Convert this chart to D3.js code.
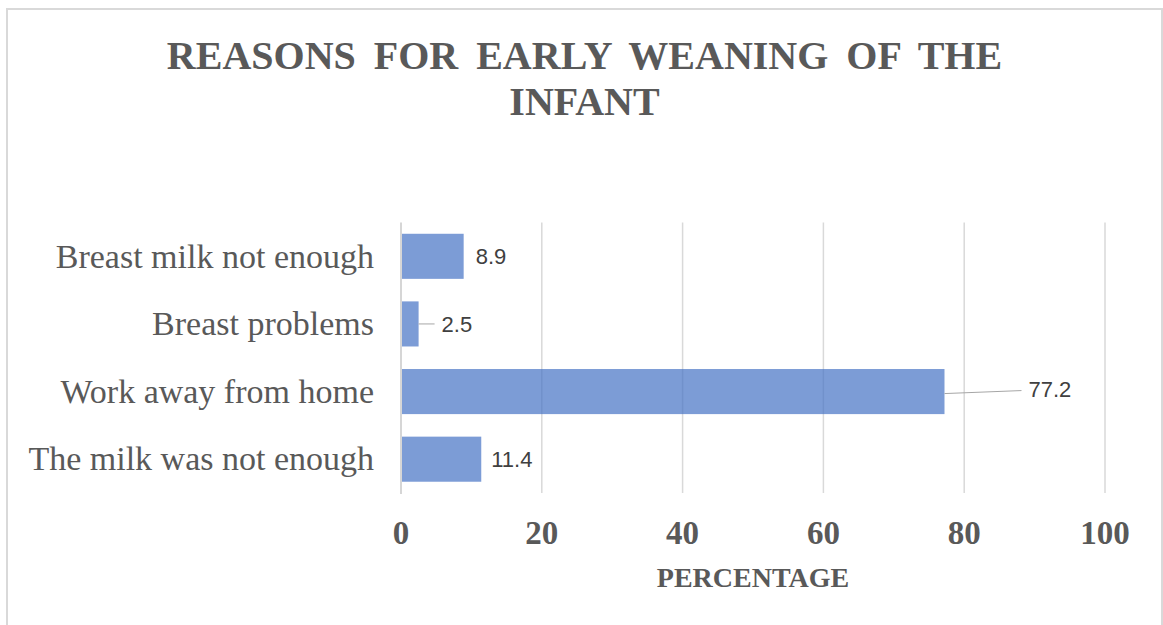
<!DOCTYPE html>
<html>
<head>
<meta charset="utf-8">
<script src="https://cdn.jsdelivr.net/npm/d3@7"></script>
<style>
  html, body { margin: 0; padding: 0; background: #fff; }
  svg { display: block; }
</style>
</head>
<body>
<svg id="chart" width="1163" height="625"></svg>
<script>
// chart data
var categories = ["Breast milk not enough", "Breast problems", "Work away from home", "The milk was not enough"];
var values = [8.9, 2.5, 77.2, 11.4];
var xTicks = [0, 20, 40, 60, 80, 100];
var titleLines = ["REASONS FOR EARLY WEANING OF THE", "INFANT"];
var axisTitle = "PERCENTAGE";

var svg = d3.select("#chart");
var margin = { top: 222.5, right: 58, bottom: 132, left: 401 };
var width = +svg.attr("width") - margin.left - margin.right;
var height = +svg.attr("height") - margin.top - margin.bottom;

// outer chart border
svg.append("rect")
    .attr("x", 7).attr("y", 9)
    .attr("width", 1155).attr("height", 630)
    .attr("fill", "#fff")
    .attr("stroke", "#d9d9d9")
    .attr("stroke-width", 2);

// title
svg.append("g")
    .attr("font-family", "'Liberation Serif', 'Times New Roman', serif")
    .attr("font-weight", "bold")
    .attr("font-size", 40)
    .attr("fill", "#595959")
    .attr("text-anchor", "middle")
    .selectAll("text")
    .data(titleLines)
    .enter().append("text")
    .attr("x", 584.5)
    .attr("y", function (d, i) { return 69 + i * 46; })
    .attr("word-spacing", function (d, i) { return i === 0 ? 8 : 0; })
    .text(function (d) { return d; });

var g = svg.append("g").attr("transform", "translate(" + margin.left + "," + margin.top + ")");

var x = d3.scaleLinear().domain([0, 100]).range([0, width]);
var y = d3.scaleBand()
    .domain(categories)
    .range([0, height])
    .paddingInner(1 / 3)
    .paddingOuter(1 / 6);

// gridlines
g.append("g")
    .selectAll("line")
    .data(xTicks.slice(1))
    .enter().append("line")
    .attr("x1", function (d) { return x(d); })
    .attr("x2", function (d) { return x(d); })
    .attr("y1", 0)
    .attr("y2", height)
    .attr("stroke", "#d9d9d9")
    .attr("stroke-width", 1.5);

// bars
g.append("g")
    .selectAll("rect")
    .data(values)
    .enter().append("rect")
    .attr("x", x(0) + 1)
    .attr("y", function (d, i) { return y(categories[i]); })
    .attr("width", function (d) { return x(d) - x(0) - 1; })
    .attr("height", y.bandwidth())
    .attr("fill", "#4472c4")
    .attr("fill-opacity", 0.7);

// vertical axis line
g.append("line")
    .attr("x1", x(0)).attr("x2", x(0))
    .attr("y1", 0).attr("y2", height + 1)
    .attr("stroke", "#c8c8c8")
    .attr("stroke-width", 1.5);

// category labels
g.append("g")
    .attr("font-family", "'Liberation Serif', 'Times New Roman', serif")
    .attr("font-size", 34)
    .attr("fill", "#595959")
    .attr("text-anchor", "end")
    .selectAll("text")
    .data(categories)
    .enter().append("text")
    .attr("x", -27)
    .attr("y", function (d) { return y(d) + y.bandwidth() / 2; })
    .attr("dy", "0.33em")
    .text(function (d) { return d; });

// x tick labels
g.append("g")
    .attr("font-family", "'Liberation Serif', 'Times New Roman', serif")
    .attr("font-weight", "bold")
    .attr("font-size", 33)
    .attr("fill", "#595959")
    .attr("text-anchor", "middle")
    .selectAll("text")
    .data(xTicks)
    .enter().append("text")
    .attr("x", function (d) { return x(d); })
    .attr("y", height + 51)
    .text(function (d) { return d; });

// axis title
g.append("text")
    .attr("x", width / 2)
    .attr("y", height + 94)
    .attr("text-anchor", "middle")
    .attr("font-family", "'Liberation Serif', 'Times New Roman', serif")
    .attr("font-weight", "bold")
    .attr("font-size", 28)
    .attr("fill", "#595959")
    .text(axisTitle);

// data labels; small bar and long bar use leader lines
var labelOffset = [12, 23, 84, 10];
var labels = g.append("g")
    .attr("font-family", "'Liberation Sans', Arial, sans-serif")
    .attr("font-size", 22)
    .attr("fill", "#404040");

values.forEach(function (v, i) {
    var cy = y(categories[i]) + y.bandwidth() / 2;
    var lx = x(v) + labelOffset[i];
    if (labelOffset[i] > 15) {
        g.append("line")
            .attr("x1", x(v))
            .attr("y1", cy + (i === 2 ? 2 : 0))
            .attr("x2", lx - 7)
            .attr("y2", cy - (i === 2 ? 1 : 0))
            .attr("stroke", "#a6a6a6")
            .attr("stroke-width", 1);
    }
    labels.append("text")
        .attr("x", lx)
        .attr("y", cy - (i === 2 ? 2 : 0))
        .attr("dy", "0.36em")
        .text(v);
});
</script>
</body>
</html>
